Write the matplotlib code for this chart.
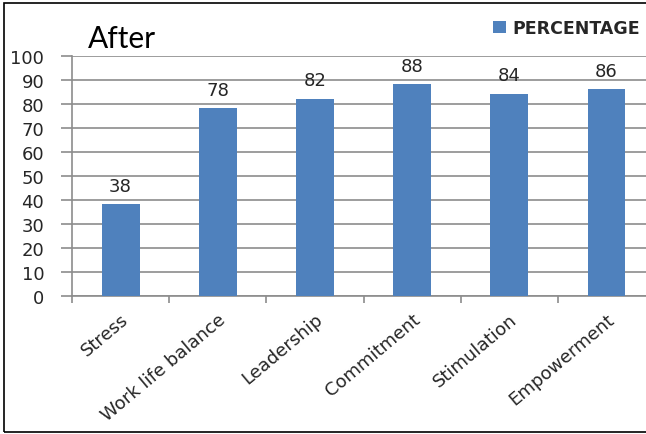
import matplotlib
matplotlib.use("Agg")
import matplotlib.pyplot as plt
from matplotlib.patches import Rectangle

categories = ["Stress", "Work life balance", "Leadership", "Commitment", "Stimulation", "Empowerment"]
values = [38, 78, 82, 88, 84, 86]
yticks = [0, 10, 20, 30, 40, 50, 60, 70, 80, 90, 100]
series_name = "PERCENTAGE"
title = "After"

plt.rcParams['font.family'] = ['DejaVu Sans']
bar_color = "#4F81BD"
grid_color = "#8C8C8C"
text_color = "#262626"

fig = plt.figure(figsize=(6.46, 4.35), dpi=100)
ax = fig.add_axes([0.1115, 0.318, 0.9025, 0.5517])

x = list(range(len(categories)))
bars = ax.bar(x, values, width=0.39, color=bar_color, zorder=3, label=series_name)
for xi, v in zip(x, values):
    ax.text(xi, v + 4, str(v), ha='center', va='bottom', fontsize=13, color=text_color)

ax.set_ylim(0, 100)
ax.set_xlim(-0.5, len(categories) - 0.5)
ax.set_yticks(yticks)
ax.set_yticklabels([str(t) for t in yticks], fontsize=13, color=text_color)
ax.yaxis.grid(True, color=grid_color, linewidth=1.2, zorder=0)
ax.set_axisbelow(True)

ax.set_xticks([i - 0.5 for i in range(len(categories) + 1)])
ax.set_xticklabels([])
ax.set_xticks(x, minor=True)
ax.set_xticklabels(categories, minor=True, rotation=40, ha='right', rotation_mode='anchor',
                   fontsize=13, color=text_color)
ax.tick_params(axis='x', which='minor', length=0, pad=10)
ax.tick_params(axis='x', which='major', length=5, color=grid_color, width=1.2)
ax.tick_params(axis='y', length=8, color=grid_color, width=1.2, pad=12)

for s in ['top', 'right']:
    ax.spines[s].set_visible(False)
for s in ['left', 'bottom']:
    ax.spines[s].set_color(grid_color)
    ax.spines[s].set_linewidth(1.2)

fig.text(88 / 646, 1 - 39 / 435, title, fontsize=21.5, color='black', va='center', ha='left',
         family=['Lato', 'DejaVu Sans'])

leg = fig.legend(handles=[bars], labels=[series_name], loc='upper right',
                 bbox_to_anchor=(1.015, 0.99), frameon=False,
                 handlelength=0.75, handleheight=0.75, handletextpad=0.35,
                 prop={'weight': 'bold', 'size': 12.5})
for t in leg.get_texts():
    t.set_color(text_color)

fig.patches.append(Rectangle((4 / 646, 2 / 435), 1.0, 1 - 6 / 435, transform=fig.transFigure,
                             fill=False, edgecolor='black', linewidth=1.2))

fig.savefig("out.png", dpi=100)
